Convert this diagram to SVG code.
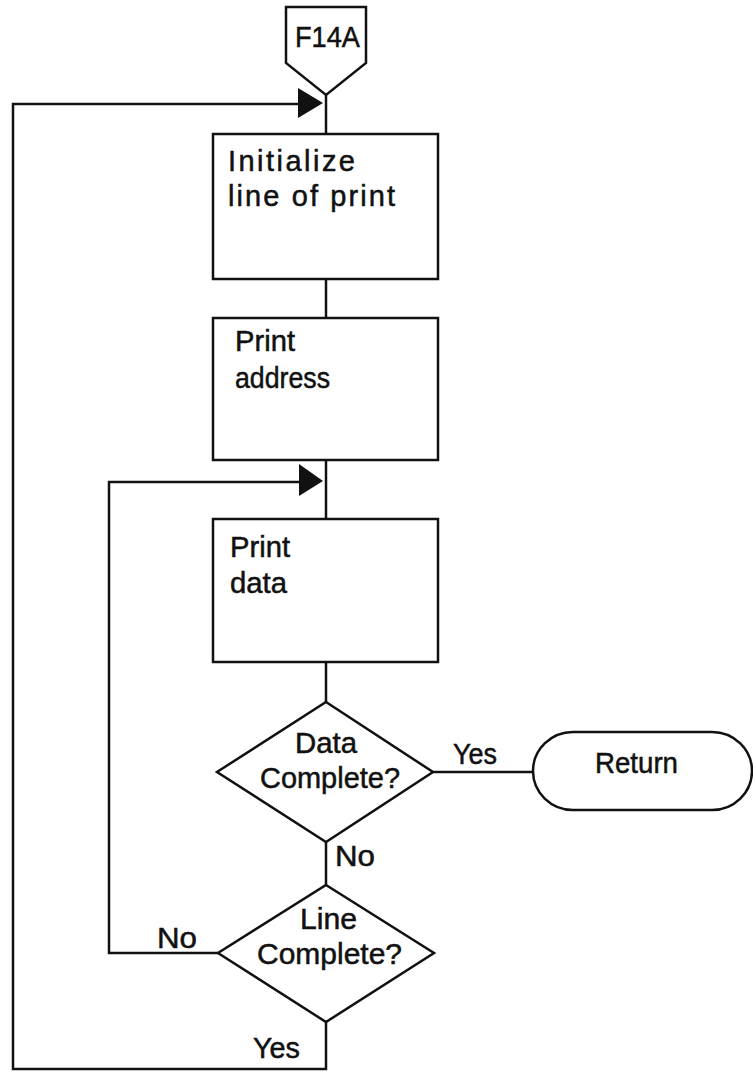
<svg xmlns="http://www.w3.org/2000/svg" width="753" height="1072" viewBox="0 0 753 1072">
  <style>
    .shape { fill: #ffffff; stroke: #111111; stroke-width: 2.5; stroke-linejoin: miter; }
    .line { fill: none; stroke: #111111; stroke-width: 2.5; }
    .lbl { font-family: "Liberation Sans", "DejaVu Sans", sans-serif; font-size: 29px; fill: #111111; stroke: #111111; stroke-width: 0.5; }
    .head { fill: #111111; }
  </style>
  <rect width="753" height="1072" fill="#ffffff"/>

  <!-- connectors -->
  <g id="connectors">
    <!-- main flow spine -->
    <line class="line" x1="326" y1="95" x2="326" y2="134"/>
    <line class="line" x1="326" y1="279" x2="326" y2="318"/>
    <line class="line" x1="326" y1="460" x2="326" y2="519"/>
    <line class="line" x1="326" y1="662" x2="326" y2="702"/>
    <line class="line" x1="326" y1="842" x2="326" y2="885"/>
    <!-- Data complete: Yes to Return -->
    <line class="line" x1="433" y1="772" x2="533" y2="772"/>
    <!-- Line complete: No, back to Print data -->
    <polyline class="line" points="218,953 109,953 109,482 300,482"/>
    <polygon class="head" points="299,464 323,481 299,496"/>
    <!-- Line complete: Yes, back to Initialize -->
    <polyline class="line" points="326,1022 326,1069 13,1069 13,104 300,104"/>
    <polygon class="head" points="298,88 323,103 298,118"/>
    <!-- branch labels -->
    <text class="lbl" x="453" y="764" textLength="44" lengthAdjust="spacingAndGlyphs">Yes</text>
    <text class="lbl" x="335" y="866" textLength="40" lengthAdjust="spacingAndGlyphs">No</text>
    <text class="lbl" x="157" y="948" textLength="40" lengthAdjust="spacingAndGlyphs">No</text>
    <text class="lbl" x="253" y="1058" textLength="47" lengthAdjust="spacingAndGlyphs">Yes</text>
  </g>

  <!-- off-page entry connector -->
  <g id="F14A">
    <polygon class="shape" points="286,7 366,7 366,63 326,95 286,63"/>
    <text class="lbl" x="295" y="47" textLength="65" lengthAdjust="spacingAndGlyphs">F14A</text>
  </g>

  <g id="init">
    <rect class="shape" x="213" y="134" width="225" height="145"/>
    <text class="lbl" x="228" y="171" textLength="127" lengthAdjust="spacing">Initialize</text>
    <text class="lbl" x="228" y="206" textLength="167" lengthAdjust="spacing">line of print</text>
  </g>

  <g id="print-address">
    <rect class="shape" x="213" y="318" width="225" height="142"/>
    <text class="lbl" x="235" y="351" textLength="60" lengthAdjust="spacingAndGlyphs">Print</text>
    <text class="lbl" x="235" y="388" textLength="95" lengthAdjust="spacingAndGlyphs">address</text>
  </g>

  <g id="print-data">
    <rect class="shape" x="213" y="519" width="225" height="143"/>
    <text class="lbl" x="230" y="557" textLength="60" lengthAdjust="spacingAndGlyphs">Print</text>
    <text class="lbl" x="230" y="593" textLength="57" lengthAdjust="spacingAndGlyphs">data</text>
  </g>

  <g id="data-complete">
    <polygon class="shape" points="326,702 433,772 326,842 217,772"/>
    <text class="lbl" x="295" y="753" textLength="62" lengthAdjust="spacingAndGlyphs">Data</text>
    <text class="lbl" x="260" y="788" textLength="140" lengthAdjust="spacingAndGlyphs">Complete?</text>
  </g>

  <g id="line-complete">
    <polygon class="shape" points="326,885 434,953 326,1022 218,953"/>
    <text class="lbl" x="300" y="929" textLength="57" lengthAdjust="spacingAndGlyphs">Line</text>
    <text class="lbl" x="257" y="964" textLength="145" lengthAdjust="spacingAndGlyphs">Complete?</text>
  </g>

  <g id="return">
    <rect class="shape" x="533" y="732" width="219" height="78" rx="40" ry="39"/>
    <text class="lbl" x="595" y="773" textLength="83" lengthAdjust="spacingAndGlyphs">Return</text>
  </g>
</svg>
